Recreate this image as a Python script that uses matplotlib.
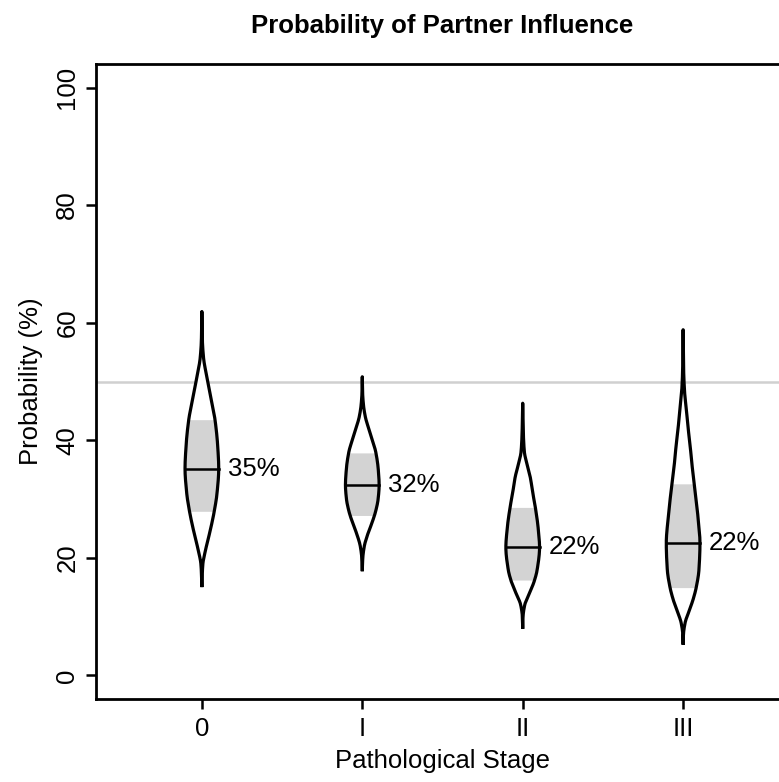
import matplotlib
matplotlib.use("Agg")
import matplotlib.pyplot as plt
import numpy as np

plt.rcParams['font.family'] = ['Liberation Sans', 'DejaVu Sans']

# stages and summary values
stages = ['0', 'I', 'II', 'III']
medians = [35.2, 32.4, 21.8, 22.5]
ci_low = [27.8, 27.2, 16.2, 14.8]
ci_high = [43.6, 37.9, 28.6, 32.7]
labels = ['35%', '32%', '22%', '22%']

# violin outlines: probability levels and relative half-widths (1 = widest)
levels_0 = [15.3, 17, 19, 21, 23.5, 26, 28, 31, 35.2, 39, 43.5, 46, 48.5, 51, 54, 57, 61.9]
widths_0 = [0, 0.02, 0.06, 0.19, 0.4, 0.6, 0.74, 0.9, 1.0, 0.94, 0.78, 0.62, 0.45, 0.28, 0.1, 0.03, 0]
levels_1 = [18, 20, 22, 24, 26, 28, 30, 32.4, 35, 38, 40, 42, 44, 46, 48, 50.8]
widths_1 = [0, 0.03, 0.12, 0.32, 0.58, 0.8, 0.94, 1.0, 0.95, 0.8, 0.6, 0.38, 0.18, 0.07, 0.02, 0]
levels_2 = [8.2, 10, 12, 14, 16, 18, 21.8, 25, 28.6, 31, 33.7, 36, 38, 41, 46.3]
widths_2 = [0, 0.02, 0.12, 0.4, 0.68, 0.86, 1.0, 0.92, 0.75, 0.6, 0.45, 0.25, 0.1, 0.04, 0]
levels_3 = [5.5, 7, 9, 11, 13, 15, 18, 22.5, 27, 32.7, 36, 39, 42, 45, 48.5, 52, 58.8]
widths_3 = [0, 0.02, 0.12, 0.36, 0.6, 0.78, 0.94, 1.0, 0.88, 0.66, 0.52, 0.42, 0.3, 0.2, 0.08, 0.03, 0]

profiles = [(levels_0, widths_0), (levels_1, widths_1),
            (levels_2, widths_2), (levels_3, widths_3)]

reference = 50
half_width = 0.105


def smooth_curve(x, y, t):
    """Monotone cubic (Fritsch-Carlson) curve through the read points, evaluated at t."""
    x = np.asarray(x, float)
    y = np.asarray(y, float)
    h = np.diff(x)
    d = np.diff(y) / h
    m = np.zeros_like(y)
    for k in range(1, len(y) - 1):
        if d[k - 1] * d[k] > 0:
            w1 = 2 * h[k] + h[k - 1]
            w2 = h[k] + 2 * h[k - 1]
            m[k] = (w1 + w2) / (w1 / d[k - 1] + w2 / d[k])
    m[0], m[-1] = d[0], d[-1]
    idx = np.clip(np.searchsorted(x, t) - 1, 0, len(x) - 2)
    s = (t - x[idx]) / h[idx]
    h00 = 2 * s**3 - 3 * s**2 + 1
    h10 = s**3 - 2 * s**2 + s
    h01 = -2 * s**3 + 3 * s**2
    h11 = s**3 - s**2
    out = h00 * y[idx] + h10 * h[idx] * m[idx] + h01 * y[idx + 1] + h11 * h[idx] * m[idx + 1]
    return np.clip(out, 0, None)


fig = plt.figure(figsize=(7.79, 7.82), dpi=100)
ax = fig.add_axes([96 / 779, 1 - 699 / 782, (789 - 96) / 779, (699 - 64) / 782])

ax.axhline(reference, color='#d0d0d0', lw=1.8, zorder=1)

for i, (lev, wid) in enumerate(profiles):
    pos = i + 1
    yy = np.linspace(lev[0], lev[-1], 300)
    ww = smooth_curve(lev, wid, yy) * half_width
    ax.fill_betweenx(yy, pos - ww, pos + ww, color='white', lw=0, zorder=2)
    # shaded interval inside the violin
    band = (yy >= ci_low[i]) & (yy <= ci_high[i])
    ax.fill_betweenx(yy[band], pos - ww[band], pos + ww[band], color='#d3d3d3', lw=0, zorder=3)
    xs = np.concatenate([pos - ww, (pos + ww)[::-1]])
    ys = np.concatenate([yy, yy[::-1]])
    ax.plot(xs, ys, color='black', lw=2.3, zorder=4, solid_joinstyle='round')
    wm = smooth_curve(lev, wid, np.array([medians[i]]))[0] * half_width
    ax.plot([pos - wm, pos + wm], [medians[i], medians[i]], color='black', lw=1.8, zorder=5)
    ax.text(pos + 0.16, medians[i], labels[i], ha='left', va='center', fontsize=18.5, zorder=6)

ax.set_xlim(0.34, 4.66)
ax.set_ylim(-4, 104)
ax.set_xticks(range(1, len(stages) + 1))
ax.set_xticklabels(stages)
ax.set_yticks(range(0, 101, 20))
ax.set_yticklabels([str(v) for v in range(0, 101, 20)], rotation=90, va='center')
ax.tick_params(axis='both', labelsize=18.5, length=7, width=1.8, direction='out', pad=6)
ax.tick_params(axis='y', pad=5)
for side in ax.spines.values():
    side.set_linewidth(2.0)

ax.set_xlabel('Pathological Stage', fontsize=18.5, labelpad=6)
ax.set_ylabel('Probability (%)', fontsize=18.5, labelpad=9)
ax.set_title('Probability of Partner Influence', fontsize=18.5, fontweight='bold', pad=22)

fig.savefig('out.png', dpi=100)
